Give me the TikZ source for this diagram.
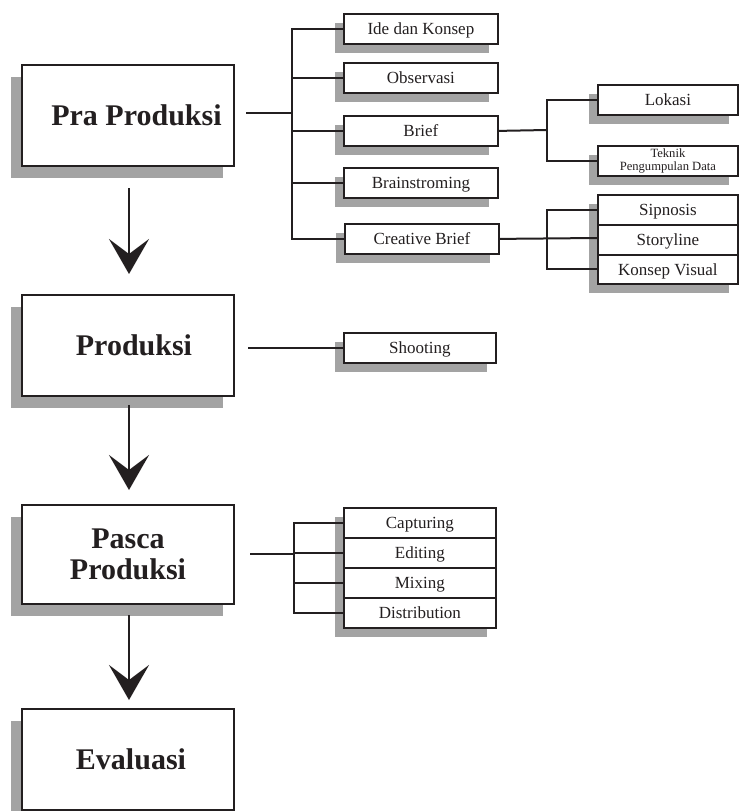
\documentclass[tikz,border=0pt]{standalone}
\usepackage{fontspec}
\setmainfont{Liberation Serif}
\usetikzlibrary{arrows.meta,shadows,calc}
\definecolor{shadowgray}{HTML}{A3A3A3}
\definecolor{ink}{HTML}{231F20}
\newcommand\sbx[1]{\raisebox{0pt}[12pt][0pt]{#1}}
\begin{document}
\begin{tikzpicture}[x=1pt,y=-1pt,
  mainbox/.style={draw=ink, fill=white, line width=2pt, inner sep=0pt, anchor=north west,
    minimum width=212pt, minimum height=101pt, align=center, text=ink,
    font=\fontsize{30}{33}\selectfont\bfseries,
    drop shadow={shadow xshift=-11pt, shadow yshift=-12pt, fill=shadowgray, opacity=1}},
  subbox/.style={draw=ink, fill=white, line width=1.8pt, inner sep=0pt, anchor=north west,
    minimum width=154pt, minimum height=30pt, align=center, text=ink,
    font=\fontsize{17}{19}\selectfont,
    drop shadow={shadow xshift=-9pt, shadow yshift=-9pt, fill=shadowgray, opacity=1}},
  rbox/.style={subbox, minimum width=140pt},
  conn/.style={draw=ink, line width=2pt},
  flow/.style={draw=ink, line width=2.8pt, -{Stealth[length=35pt,width=40pt,inset=15pt]}}
]
\useasboundingbox (0,0) rectangle (740,811);

% main boxes
\node[mainbox] (pra) at (21,64) {\hspace*{17pt}Pra Produksi};
\node[mainbox] (prod) at (21,294) {\hspace*{12pt}Produksi};
\node[mainbox, minimum height=99pt] (pasca) at (21,504) {Pasca\\[-2pt]Produksi};
\node[mainbox] (eval) at (21,708) {\hspace*{6pt}Evaluasi};

% flow arrows
\draw[flow, shorten <=21pt, shorten >=20pt] ([xshift=1pt]pra.south) -- ([xshift=1pt]prod.north);
\draw[flow, shorten <=8pt, shorten >=14pt] ([xshift=1pt]prod.south) -- ([xshift=1pt]pasca.north);
\draw[flow, shorten <=10pt, shorten >=8pt] ([xshift=1pt]pasca.south) -- ([xshift=1pt]eval.north);

% pra produksi children
\node[subbox] (ide) at (343,13) {\sbx{Ide dan Konsep}};
\node[subbox] (obs) at (343,62) {\sbx{Observasi}};
\node[subbox] (brief) at (343,115) {\sbx{Brief}};
\node[subbox] (brain) at (343,167) {\sbx{Brainstroming}};
\node[subbox] (cbrief) at (344,223) {\sbx{Creative Brief}};

\coordinate (b1) at (292,113);
\draw[conn, shorten <=11pt] (pra.east |- b1) -- (b1);
\foreach \n in {ide,obs,brief,brain,cbrief} { \draw[conn] (\n.west) -| (b1); }

% brief children
\node[rbox] (lok) at (597,84) {\sbx{Lokasi}};
\node[rbox, font=\fontsize{12.6}{13.5}\selectfont] (tek) at (597,145) {Teknik\\Pengumpulan Data};
\coordinate (b2) at (547,130);
\draw[conn] (brief.east) -- (b2);
\draw[conn] (lok.west) -| (b2);
\draw[conn] (tek.west) -| (b2);

% creative brief children
\node[rbox] (sip) at (597,194) {\sbx{Sipnosis}};
\node[rbox] (story) at (597,224) {\sbx{Storyline}};
\node[rbox, minimum height=29pt] (kv) at (597,254) {\sbx{Konsep Visual}};
\coordinate (b3) at (547,238);
\draw[conn] (cbrief.east) -- (story.west |- b3);
\draw[conn] (sip.west) -| (b3);
\draw[conn] (kv.west) -| (b3);

% produksi child
\node[subbox, minimum width=152pt] (shoot) at (343,332) {\sbx{Shooting}};
\draw[conn, shorten <=13pt] (prod.east |- shoot.west) -- (shoot.west);

% pasca produksi children
\node[subbox, minimum width=152pt] (cap) at (343,507) {\sbx{Capturing}};
\node[subbox, minimum width=152pt] (edit) at (343,537) {\sbx{Editing}};
\node[subbox, minimum width=152pt] (mix) at (343,567) {\sbx{Mixing}};
\node[subbox, minimum width=152pt] (dist) at (343,597) {\sbx{Distribution}};
\coordinate (b4) at (294,554);
\draw[conn, shorten <=15pt] (pasca.east |- b4) -- (b4);
\foreach \n in {cap,edit,mix,dist} { \draw[conn] (\n.west) -| (b4); }
\end{tikzpicture}
\end{document}
